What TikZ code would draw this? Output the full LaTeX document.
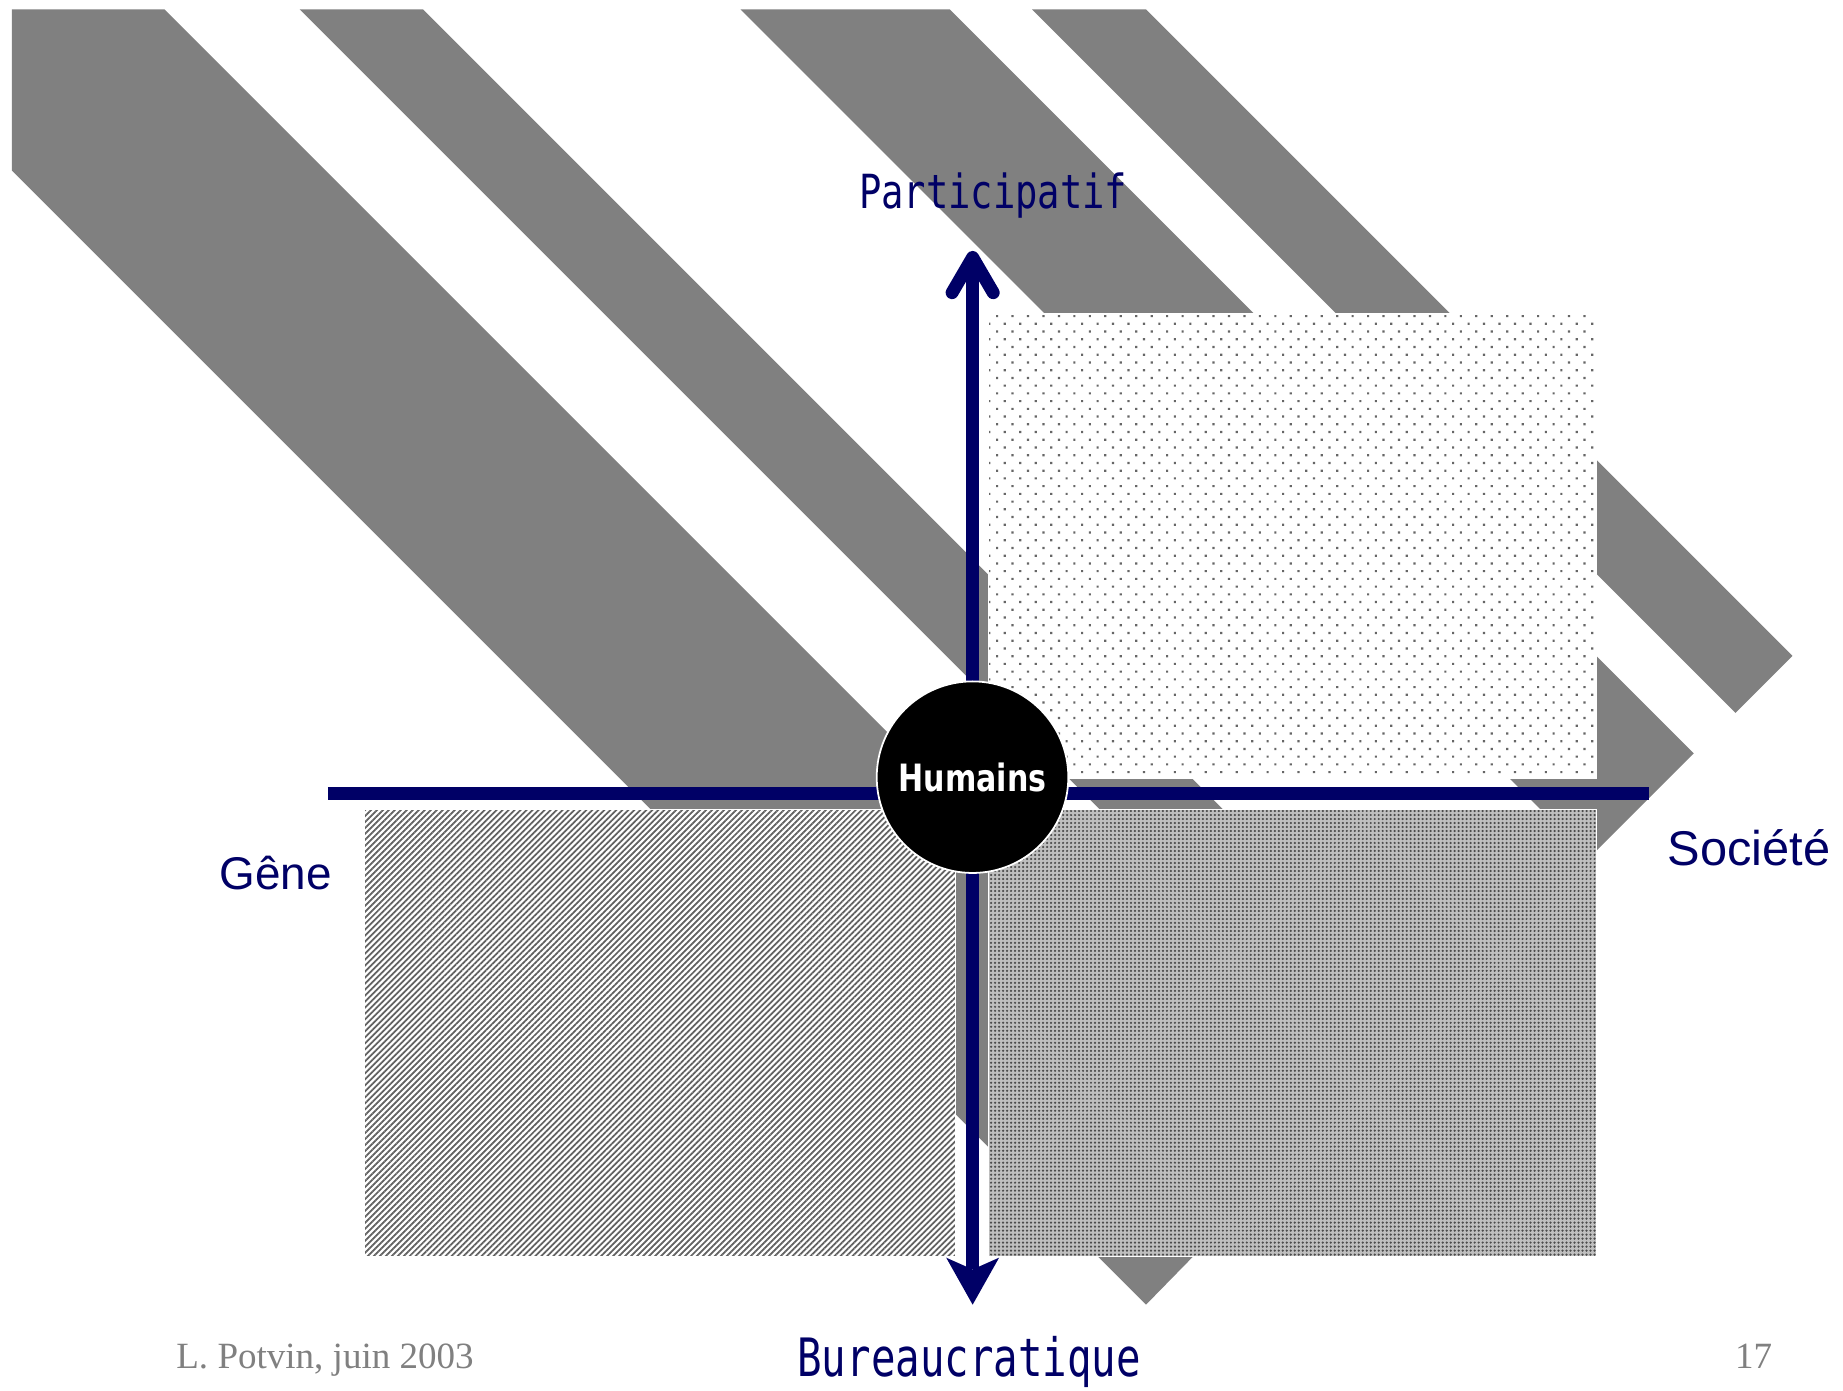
\documentclass[tikz,border=0pt]{standalone}
\usepackage{fontspec}
\usetikzlibrary{arrows.meta,patterns.meta}
\newfontfamily\axmono{DejaVu Sans Mono}
\newfontfamily\axsans{Liberation Sans}
\newfontfamily\humfont{DejaVu Sans}
\newfontfamily\footserif{Liberation Serif}
\definecolor{navy}{RGB}{0,0,102}
\definecolor{stripegray}{RGB}{128,128,128}
\definecolor{footgray}{RGB}{128,128,128}
\begin{document}
\begin{tikzpicture}[x=1pt,y=-1pt,
  stripe/.style={fill=stripegray},
  axis/.style={draw=navy, line width=10.5pt},
  lab/.style={text=navy, inner sep=0pt, anchor=base},
  foot/.style={text=footgray, inner sep=0pt, anchor=base, font=\footserif\fontsize{31.5}{34}\selectfont},
  quad/.style={draw=white, line width=1pt},
]
\useasboundingbox (0,0) rectangle (1568,1183);
\fill[white] (0,0) rectangle (1568,1183);
% diagonal bands
\fill[stripe] (10,8) -- (140,8) -- (1107,975) -- (975,1110) -- (10,145) -- cycle;
\fill[stripe] (255,8) -- (360,8) -- (1300,948) -- (1247.5,1000.5) -- cycle;
\fill[stripe] (630,8) -- (808,8) -- (1441,641) -- (1352,730) -- cycle;
\fill[stripe] (878,8) -- (975,8) -- (1525,558) -- (1476.5,606.5) -- cycle;
% quadrants
\path[quad, preaction={fill=white}, pattern={Dots[angle=45,distance=9.3pt,radius=1.3pt]}, pattern color=black!60]
  (841,267) rectangle (1358,662);
\path[quad, preaction={fill=black!25}, pattern={Dots[distance=3.4pt,radius=1.05pt]}, pattern color=black!70]
  (841,689) rectangle (1358,1069);
\path[quad, preaction={fill=white}, pattern={Lines[angle=45,distance=3.6pt,line width=1.5pt]}, pattern color=black!62]
  (310,689) rectangle (813,1069);
% axes
\coordinate (hl) at (279,675);
\coordinate (hr) at (1403,675);
\coordinate (vt) at (827.5,219);
\coordinate (vb) at (827.5,1110);
\coordinate (vl) at (810,249);
\coordinate (vr) at (845,249);
\draw[axis] (hl) -- (hr);
\draw[axis, -{Stealth[length=40pt,width=45pt,inset=10pt,line width=0pt]}] (vt) -- (vb);
\draw[navy, line width=11pt, line cap=round, line join=round] (vl) -- (vt) -- (vr);
% centre
\node[circle, fill=black, draw=white, line width=1.5pt, minimum size=163pt, inner sep=0pt,
  text=white, font=\humfont\bfseries\fontsize{32}{34}\selectfont] (hum) at (827.4,661.2) {\scalebox{0.8}[1]{Humains}};
% labels
\node[lab, font=\axmono\fontsize{40}{44}\selectfont] (part) at (845,177) {\scalebox{0.79}[1]{Participatif}};
\node[lab, font=\axmono\fontsize{45}{48}\selectfont] (bur) at (824.5,1171) {\scalebox{0.77}[1]{Bureaucratique}};
\node[lab, font=\axsans\fontsize{39}{42}\selectfont] (gene) at (234.7,757) {Gêne};
\node[lab, font=\axsans\fontsize{41.5}{44}\selectfont] (soc) at (1488,736) {Société};
\node[foot] (auth) at (276.5,1164) {L. Potvin, juin 2003};
\node[foot] (num) at (1492,1164) {17};
\end{tikzpicture}
\end{document}
